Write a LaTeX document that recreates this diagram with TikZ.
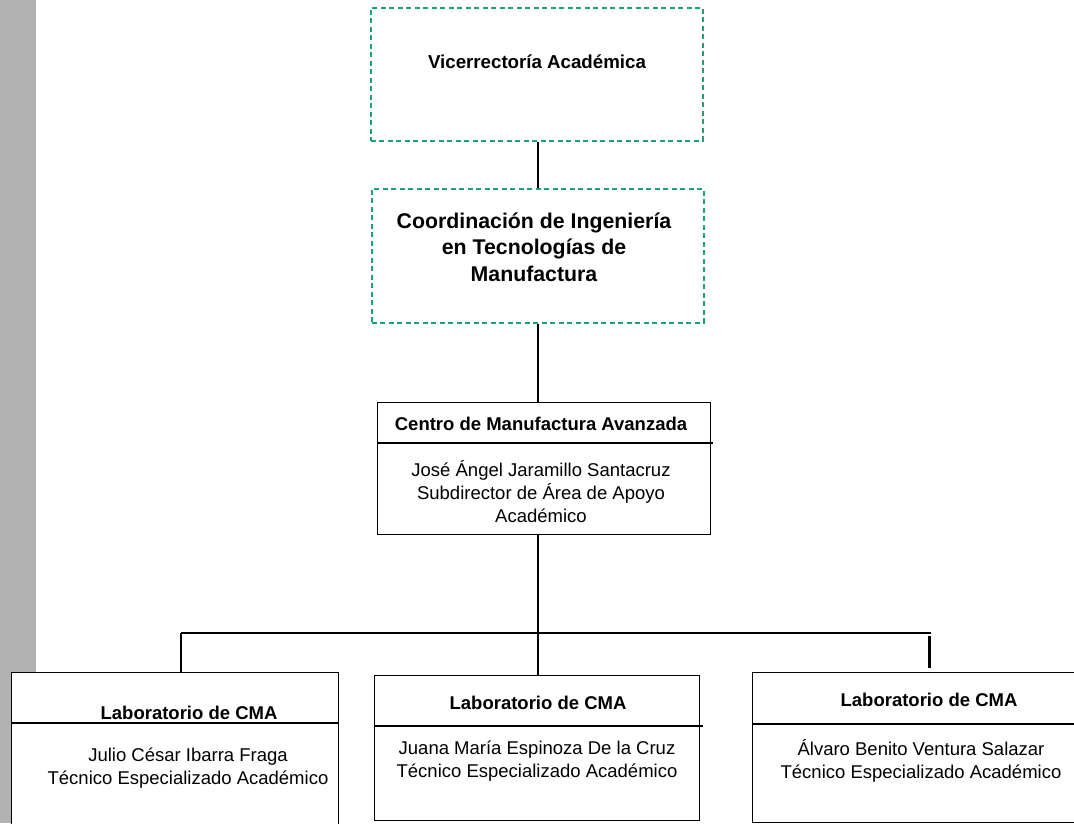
\documentclass[tikz,border=0pt]{standalone}
\usepackage{fontspec}
\setmainfont{Liberation Sans}
\definecolor{dashgreen}{RGB}{30,160,120}
\definecolor{sidegrey}{RGB}{178,178,178}
\begin{document}
\begin{tikzpicture}[x=1pt,y=-1pt,
  govbox/.style={draw=dashgreen, line width=1.5pt, dash pattern=on 5pt off 3.5pt, fill=white, inner sep=0pt, anchor=north west},
  unitbox/.style={draw=black, line width=1.4pt, fill=white, inner sep=0pt, anchor=north west},
  link/.style={draw=black, line width=2pt},
  divider/.style={draw=black, line width=1.8pt},
  title/.style={font=\fontsize{18.5}{22}\selectfont\bfseries, inner sep=0pt},
  bigtitle/.style={font=\fontsize{21.3}{26.5}\selectfont\bfseries, align=center, inner sep=0pt},
  body/.style={font=\fontsize{18.5}{23}\selectfont, align=center, inner sep=0pt}]
\useasboundingbox (0,0) rectangle (1074,823);
\clip (0,0) rectangle (1074,823);
\fill[sidegrey] (0,0) rectangle (36,823);

% governing offices
\node[govbox, minimum width=332, minimum height=133] (vice) at (370,7) {};
\node[title, font=\fontsize{18.7}{22}\selectfont\bfseries] (vicet) at (537,62) {Vicerrectoría Académica};
\node[govbox, minimum width=332, minimum height=134] (coord) at (371,188) {};
\node[bigtitle] (coordt) at (534,247) {Coordinación de Ingeniería\\en Tecnologías de\\Manufactura};

% centre
\node[unitbox, minimum width=333, minimum height=132] (cma) at (377,402) {};
\draw[divider] (cma.west |- 0,443) coordinate (cmadl) -- (713,443) coordinate (cmadr);
\node[title] (cmat) at (541,424) {Centro de Manufactura Avanzada};
\node[body] (cmab) at (541,492) {José Ángel Jaramillo Santacruz\\Subdirector de Área de Apoyo\\Académico};

% laboratories
\node[unitbox, minimum width=327, minimum height=170] (lab1) at (11,672) {};
\draw[divider] (11,723) coordinate (l1dl) -- (338,723) coordinate (l1dr);
\node[title] (lab1t) at (189,713) {Laboratorio de CMA};
\node[body] (lab1b) at (188,768) {Julio César Ibarra Fraga\\Técnico Especializado Académico};

\node[unitbox, minimum width=325, minimum height=145] (lab2) at (374,675) {};
\draw[divider] (374,726) coordinate (l2dl) -- (703,726) coordinate (l2dr);
\node[title] (lab2t) at (538,703) {Laboratorio de CMA};
\node[body] (lab2b) at (537,761) {Juana María Espinoza De la Cruz\\Técnico Especializado Académico};

\node[unitbox, minimum width=340, minimum height=150] (lab3) at (752,672) {};
\draw[divider] (752,724) coordinate (l3dl) -- (1080,724) coordinate (l3dr);
\node[title] (lab3t) at (929,700) {Laboratorio de CMA};
\node[body] (lab3b) at (921,761) {Álvaro Benito Ventura Salazar\\Técnico Especializado Académico};

% connectors
\coordinate (busl) at (181,633);
\coordinate (busm) at (538,633);
\coordinate (busr) at (931,633);
\coordinate (drop3t) at (929,636);
\coordinate (drop3b) at (929,668);
\draw[link] (vice.south -| 538,0) -- (coord.north -| 538,0);
\draw[link] (coord.south -| 538,0) -- (cma.north -| 538,0);
\draw[link] (cma.south -| 538,0) -- (busm);
\draw[link] (busl) -- (busr);
\draw[link] (busl) -- (busl |- lab1.north);
\draw[link] (busm) -- (busm |- lab2.north);
\draw[draw=black, line width=3pt] (drop3t) -- (drop3b);
\end{tikzpicture}
\end{document}
